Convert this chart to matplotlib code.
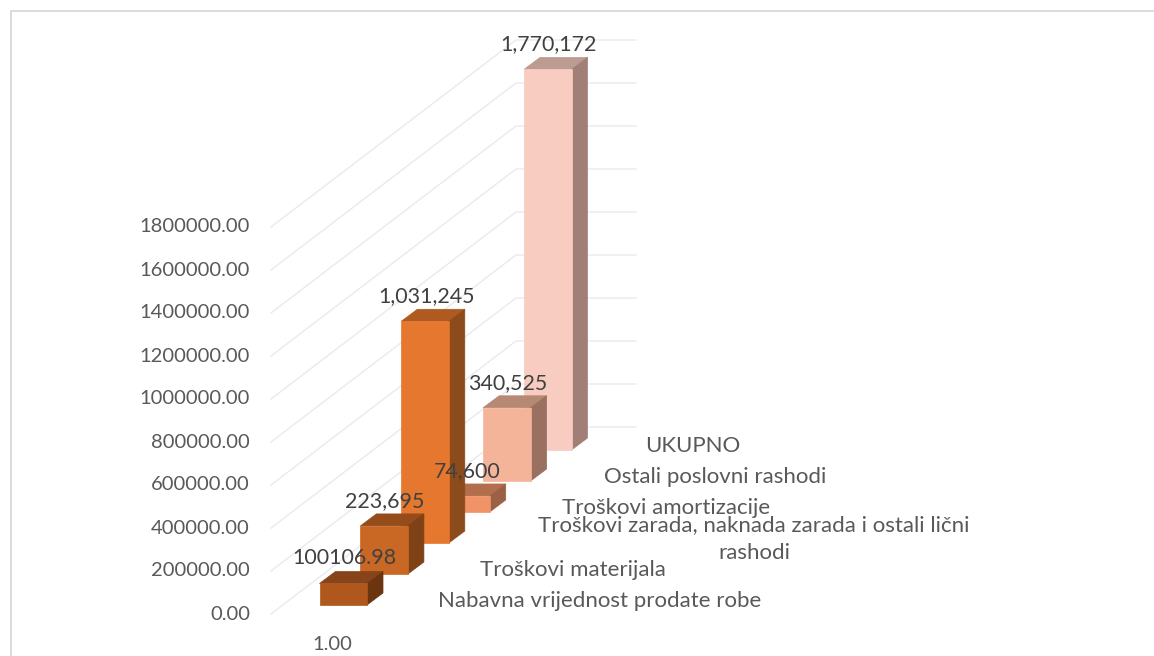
import matplotlib
matplotlib.use('Agg')
import matplotlib.pyplot as plt
from matplotlib.patches import Polygon

plt.rcParams['font.family'] = ['Lato', 'DejaVu Sans']

# Data
categories = ['Nabavna vrijednost prodate robe', 'Troškovi materijala',
              'Troškovi zarada, naknada zarada i ostali lični\nrashodi',
              'Troškovi amortizacije', 'Ostali poslovni rashodi', 'UKUPNO']
values = [100106.98, 223695, 1031245, 74600, 340525, 1770172]
value_labels = ['100106.98', '223,695', '1,031,245', '74,600', '340,525', '1,770,172']
y_ticks = [0, 200000, 400000, 600000, 800000, 1000000, 1200000, 1400000, 1600000, 1800000]
series_label = '1.00'

# Styles for each bar: front, top, side
front_colors = ['#B0571E', '#C96725', '#E5772E', '#F09468', '#F4B49A', '#F8CCC0']
top_colors = ['#87431A', '#964B1A', '#AE5A20', '#B36F4D', '#B78873', '#BC9C90']
side_colors = ['#6B3510', '#7F4116', '#8C4B1B', '#9C6044', '#9A7060', '#A17F77']

# Where the category labels sit (centre x, centre y in pixels)
cat_label_pos = [(600, 601), (573, 570), (754, 539), (666, 508), (715, 477), (693, 446)]

# Oblique projection, in image pixels
x0, y0 = 319.5, 605      # front left bottom corner of first bar
step_x, step_y = 40.9, 31
bar_w = 47.5
depth_x, depth_y = 16, 12
px_per_unit = 215 / 1000000

wall_left_x, wall_zero_y = 271, 614
wall_dx, wall_dy = 245, 187
wall_end_x = 636


def bar_corners(i, value):
    left = x0 + i * step_x
    bottom = y0 - i * step_y
    top = bottom - value * px_per_unit
    return left, left + bar_w, bottom, top


fig = plt.figure(figsize=(11.54, 6.56), dpi=100)
ax = fig.add_axes([0, 0, 1, 1])
ax.set_xlim(0, 1154)
ax.set_ylim(656, 0)
ax.axis('off')

# Outer frame
ax.plot([11, 11, 1154], [656, 11, 11], color='#D9D9D9', lw=1.3, zorder=1)

# Gridlines on the floor/wall
for t in y_ticks:
    y = wall_zero_y - t * px_per_unit
    ax.plot([wall_left_x, wall_left_x + wall_dx, wall_end_x],
            [y, y - wall_dy, y - wall_dy], color='#EAEAEA', lw=1.0, zorder=1)
    ax.text(250, y, f'{t:.2f}', ha='right', va='center', fontsize=14.5, color='#595959')

# Bars, back to front
for i in range(len(values) - 1, -1, -1):
    l, r, b, t = bar_corners(i, values[i])
    z = 10 - i
    ax.add_patch(Polygon([(l, t), (r, t), (r + depth_x, t - depth_y), (l + depth_x, t - depth_y)],
                         fc=top_colors[i], ec=top_colors[i], lw=0.5, zorder=z))
    ax.add_patch(Polygon([(r, t), (r + depth_x, t - depth_y), (r + depth_x, b - depth_y), (r, b)],
                         fc=side_colors[i], ec=side_colors[i], lw=0.5, zorder=z))
    ax.add_patch(Polygon([(l, t), (r, t), (r, b), (l, b)],
                         fc=front_colors[i], ec=front_colors[i], lw=0.5, zorder=z))

# Value labels
for i, lab in enumerate(value_labels):
    l, r, b, t = bar_corners(i, values[i])
    ax.text((l + r) / 2 + 1, t - 25, lab, ha='center', va='center', fontsize=15.4,
            color='#404040', zorder=20)

# Category labels
for lab, (cx, cy) in zip(categories, cat_label_pos):
    ax.text(cx, cy, lab, ha='center', va='center', fontsize=16, color='#595959',
            linespacing=1.45, zorder=20)

ax.text(332, 644, series_label, ha='center', va='center', fontsize=14.5, color='#595959')

fig.savefig('out.png', dpi=100)
